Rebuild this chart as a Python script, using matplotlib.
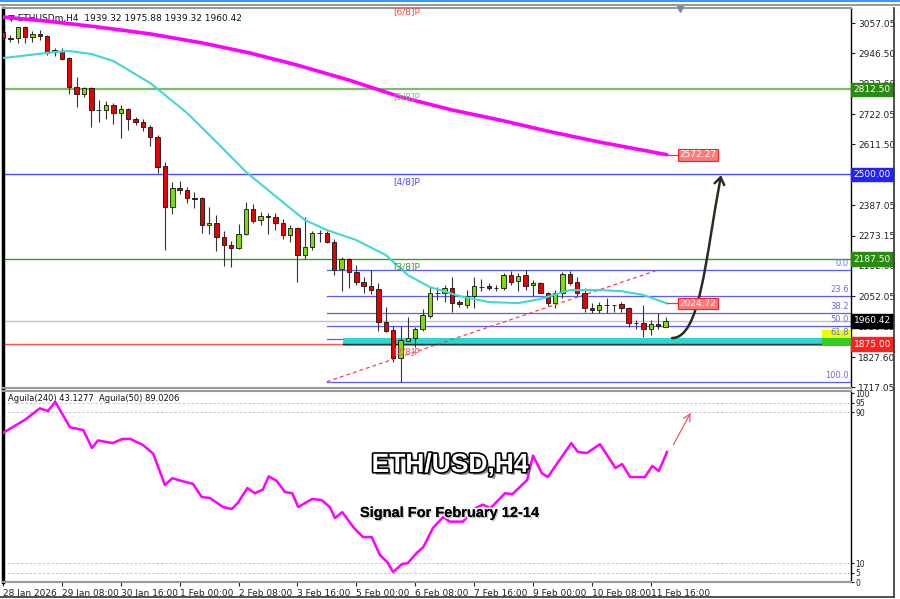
import matplotlib
matplotlib.use('Agg')
import matplotlib.pyplot as plt
import matplotlib.patheffects as pe
from matplotlib.patches import Rectangle, FancyArrowPatch
from matplotlib.path import Path
from matplotlib.transforms import blended_transform_factory
from matplotlib.lines import Line2D

plt.rcParams['font.family'] = ['DejaVu Sans']

# ---- H4 candles, bar 0 = 28 Jan 2026 00:00 ----
opens = [3025, 3001, 3001, 3042, 3006, 3016, 3009, 2950, 2954, 2928,
         2822, 2796, 2818, 2737, 2737, 2755, 2726, 2741, 2704, 2693,
         2674, 2637, 2531, 2380, 2448, 2442, 2413, 2413, 2314, 2321,
         2269, 2240, 2229, 2280, 2372, 2332, 2344, 2343, 2321, 2277,
         2302, 2203, 2233, 2284, 2284, 2251, 2151, 2188, 2140, 2104,
         2089, 2078, 1956, 1927, 1824, 1886, 1897, 1930, 1978, 2063,
         2063, 2081, 2030, 2019, 2052, 2086, 2089, 2081, 2081, 2129,
         2107, 2129, 2093, 2100, 2063, 2026, 2063, 2133, 2104, 2063,
         2008, 2001, 2019, 2019, 2023, 2008, 1953, 1953, 1931, 1949,
         1939.32]
highs = [3030, 3013, 3044, 3045, 3028, 3031, 3013, 2965, 2965, 2932,
         2858, 2822, 2822, 2774, 2770, 2763, 2755, 2744, 2711, 2704,
         2682, 2645, 2545, 2472, 2476, 2453, 2435, 2417, 2380, 2350,
         2291, 2255, 2317, 2398, 2390, 2361, 2358, 2358, 2336, 2314,
         2306, 2343, 2291, 2295, 2291, 2262, 2196, 2192, 2166, 2122,
         2148, 2100, 2012, 1942, 1942, 1975, 1938, 2004, 2085, 2085,
         2093, 2122, 2037, 2074, 2122, 2115, 2100, 2093, 2137, 2144,
         2137, 2148, 2111, 2104, 2067, 2074, 2140, 2144, 2122, 2082,
         2026, 2030, 2045, 2020, 2030, 2012, 1964, 2019, 1964, 1990,
         1975.88]
lows = [2996, 2987, 2983, 2983, 2987, 2995, 2939, 2936, 2921, 2796,
        2748, 2785, 2674, 2693, 2704, 2685, 2634, 2663, 2682, 2660,
        2604, 2505, 2221, 2354, 2428, 2395, 2376, 2284, 2280, 2218,
        2163, 2159, 2225, 2277, 2321, 2314, 2280, 2295, 2262, 2251,
        2104, 2188, 2221, 2251, 2247, 2129, 2071, 2082, 2093, 2063,
        2060, 1923, 1920, 1809, 1737, 1886, 1864, 1923, 1971, 2037,
        2030, 1993, 2012, 2008, 2008, 2070, 2074, 2070, 2074, 2093,
        2070, 2074, 2052, 2063, 2015, 2008, 2045, 2093, 2052, 1993,
        1990, 1990, 1990, 1993, 1993, 1938, 1931, 1901, 1909, 1931,
        1939.32]
closes = [3001, 3000, 3042, 3006, 3017, 3009, 2947, 2958, 2925, 2822,
          2796, 2818, 2737, 2735, 2755, 2726, 2741, 2704, 2693, 2674,
          2637, 2527, 2380, 2450, 2444, 2413, 2411, 2314, 2321, 2269,
          2240, 2229, 2280, 2372, 2328, 2347, 2343, 2321, 2277, 2302,
          2203, 2233, 2284, 2283, 2251, 2148, 2188, 2140, 2104, 2089,
          2074, 1956, 1923, 1824, 1890, 1897, 1930, 1982, 2063, 2062,
          2081, 2026, 2023, 2052, 2089, 2085, 2081, 2082, 2129, 2104,
          2126, 2089, 2100, 2063, 2026, 2063, 2133, 2100, 2063, 2008,
          2001, 2019, 2018, 2018, 2008, 1953, 1952, 1931, 1949, 1942,
          1960.42]

# moving averages
ma200_bar = [0, 6, 13, 20, 27, 33.5, 40, 47, 54, 61, 67.5, 74, 81, 90.2]
ma200_val = [3079, 3064, 3042, 3017, 2984, 2947, 2902, 2847, 2785, 2737,
             2700, 2659, 2619, 2572.27]
ma50_bar = [0, 7, 9, 12, 15, 20, 25, 29, 33, 37, 41, 44, 48, 52, 55, 58,
            62, 66, 70, 73, 77, 81, 84, 87, 90.2]
ma50_val = [2928, 2950, 2954, 2943, 2917, 2836, 2726, 2619, 2509, 2420,
            2332, 2295, 2258, 2203, 2129, 2085, 2052, 2030, 2026, 2041,
            2074, 2074, 2070, 2056, 2024.72]

# Murrey math levels
murrey_names = ['[6/8]P', '[5/8]P', '[4/8]P', '[3/8]P', '[2/8]P']
murrey_vals = [3125.0, 2812.5, 2500.0, 2187.5, 1875.0]
murrey_colors = ['#ff4040', '#7cbc6a', '#4a4aff', '#3c9a2c', '#ff5050']

# Fibonacci retracement
fib_high = 2148
fib_low = 1737
fib_levels = [0.0, 23.6, 38.2, 50.0, 61.8, 100.0]

# oscillator panel
osc_bar = [0, 3.0, 5.0, 6.1, 7.1, 9.1, 10.9, 12.1, 12.9, 14.9, 16.2, 17.3,
           19.0, 20.4, 22.0, 23.0, 24.3, 25.8, 27.0, 28.1, 29.9, 31.1, 31.9,
           33.2, 34.2, 35.3, 36.1, 37.2, 38.3, 39.3, 40.1, 42.0, 43.3, 44.4,
           45.1, 46.1, 47.6, 48.9, 50.1, 51.2, 52.2, 53.0, 54.2, 55.0, 56.2,
           57.1, 58.4, 59.8, 60.7, 62.5, 64.1, 65.2, 66.2, 68.2, 69.2, 71.2,
           72.0, 73.2, 74.0, 77.2, 78.1, 79.3, 81.1, 83.2, 84.1, 85.2, 87.2,
           88.2, 89.1, 90.2]
osc_val = [79, 86, 92, 90.6, 95.4, 82, 80.5, 71, 75, 73.6, 75.8, 75.8,
           72.6, 68, 51.4, 55, 53.5, 52, 45, 44.5, 39.7, 38.7, 41.9,
           49.8, 47, 49, 56, 53.5, 47.7, 47, 39.7, 44, 43.4, 39.7,
           33.9, 37, 29, 23.8, 23.8, 14.3, 10.6, 5.3, 9.5, 10, 15.4,
           18.5, 28.6, 34.4, 32, 32, 39, 41, 39, 47, 46.6, 54,
           67, 57.7, 55.6, 73.6, 68.9, 68.3, 73, 60.4, 62.5, 55.6, 55.6,
           61.5, 58.8, 68.9]

time_bars = [0, 8, 16, 24, 32, 40, 48, 56, 64, 72, 80, 88]
time_labels = ['28 Jan 2026', '29 Jan 08:00', '30 Jan 16:00', '1 Feb 00:00',
               '2 Feb 08:00', '3 Feb 16:00', '5 Feb 00:00', '6 Feb 08:00',
               '7 Feb 16:00', '9 Feb 00:00', '10 Feb 08:00', '11 Feb 16:00']
price_ticks = [3057.05, 2946.50, 2833.60, 2722.05, 2611.50, 2500.95, 2387.05,
               2273.15, 2162.60, 2052.05, 1938.15, 1827.60, 1717.05]

W, H = 900, 599
fig = plt.figure(figsize=(9, 5.99), dpi=100)
fig.patch.set_facecolor('white')

ax = fig.add_axes([3 / W, 1 - 388 / H, 848 / W, 380 / H])
ax2 = fig.add_axes([3 / W, 1 - 582 / H, 848 / W, 191 / H])
XMAX = 115.2
for a in (ax, ax2):
    a.set_xlim(0, XMAX)
    a.yaxis.tick_right()
    a.tick_params(axis='y', labelsize=6.5, length=3, pad=2, colors='#222222')
    a.spines['left'].set_linewidth(2.5)
    a.spines['right'].set_linewidth(1)
    a.spines['top'].set_color('#999999')
    a.spines['bottom'].set_color('#999999')
    a.spines['top'].set_linewidth(1.5)
    a.spines['bottom'].set_linewidth(1.5)
ax.set_ylim(1713.5, 3112.3)
ax.set_xticks([])
ax.set_yticks(price_ticks)
ax.set_yticklabels(['%.2f' % v for v in price_ticks])

# candles
for i in range(len(opens)):
    o, h, l, c = opens[i], highs[i], lows[i], closes[i]
    ax.vlines(i, l, h, color='#333333', lw=0.8, zorder=3)
    bottom = min(o, c)
    height = max(abs(c - o), 2.0)
    col = '#7ddc00' if c >= o else '#e80000'
    ax.bar(i, height, bottom=bottom, width=0.6, color=col,
           edgecolor='#111111', linewidth=0.6, zorder=4)

# MAs
ax.plot(ma200_bar, ma200_val, color='#ff00ff', lw=2.6, zorder=5, solid_capstyle='round')
ax.plot(ma50_bar, ma50_val, color='#40d8d0', lw=1.5, zorder=5)

# murrey lines
tr_ax = blended_transform_factory(ax.transAxes, ax.transData)
for name, v, col in zip(murrey_names, murrey_vals, murrey_colors):
    lw = 1.6 if name == '[5/8]P' else 1.0
    ax.axhline(v, color=col, lw=lw, zorder=1)
    ax.annotate(name, (53, v), xytext=(0, -2), textcoords='offset points',
                ha='left', va='top', fontsize=6.5, color=col, zorder=6,
                annotation_clip=False, clip_on=True)

# bid line
ax.axhline(closes[-1], color='#c0c4c8', lw=1.0, zorder=1)

# fib lines
fib_start = 44
for lv in fib_levels:
    p = fib_high - (fib_high - fib_low) * lv / 100
    ax.plot([fib_start, XMAX], [p, p], color='#5a5aff', lw=0.9, zorder=2)
    ax.annotate('%.1f' % lv, (XMAX - 0.3, p), xytext=(0, 1.5),
                textcoords='offset points', ha='right', va='bottom',
                fontsize=6, color='#6a6ae8', zorder=8)

# support band
ax.add_patch(Rectangle((46.2, 1868), XMAX - 46.2, 29.5, facecolor='#2fd6cf',
                       edgecolor='none', zorder=2.5))
ax.plot([46.2, XMAX], [1876, 1876], color='#0a3a3a', lw=1.0, zorder=2.6)
ax.add_patch(Rectangle((111.3, 1897.5), XMAX - 111.3, 29, facecolor='#eaff00',
                       edgecolor='none', zorder=7))
ax.add_patch(Rectangle((111.3, 1868), XMAX - 111.3, 29.5, facecolor='#33cc22',
                       edgecolor='none', zorder=7))

# trend line
ax.plot([44, 89], [1737, 2148], color='#ff4040', lw=0.9, ls=(0, (3, 2.5)), zorder=3)

# curved projection arrow
verts = [(90.9, 1897.5), (94.7, 1897.5), (95.4, 2184.6), (97.55, 2497)]
codes = [Path.MOVETO, Path.CURVE4, Path.CURVE4, Path.CURVE4]
arr = FancyArrowPatch(path=Path(verts, codes), arrowstyle='->,head_length=5,head_width=3.5',
                      color='#2b2b1e', lw=1.8, zorder=9)
ax.add_patch(arr)

# inline value tags
ax.plot([90.2, 91.8], [2572.27, 2572.27], color='#ff3030', lw=0.9, zorder=5)
ax.text(91.9, 2572.27, '2572.27', fontsize=6.5, color='white', va='center', ha='left',
        zorder=9, bbox=dict(boxstyle='square,pad=0.15', fc='#ff7a7a', ec='#ff2020', lw=0.8))
ax.plot([90.2, 91.8], [2024.72, 2024.72], color='#ff3030', lw=0.9, zorder=5)
ax.text(91.9, 2024.72, '2024.72', fontsize=6.5, color='white', va='center', ha='left',
        zorder=9, bbox=dict(boxstyle='square,pad=0.15', fc='#ff7a7a', ec='#ff2020', lw=0.8))

# right-axis colored labels
axis_tags = [(2812.50, '#2b8a12'), (2500.00, '#2222ff'), (2187.50, '#2b8a12'),
             (1960.42, '#000000'), (1875.00, '#ff2020')]
for v, col in axis_tags:
    ax.text(1.003, v, '%.2f' % v, transform=tr_ax, fontsize=6.5, color='white',
            va='center', ha='left', clip_on=False, zorder=10,
            bbox=dict(boxstyle='square,pad=0.25', fc=col, ec=col))

# header
ax.text(0.006, 0.985, '\u25bc ETHUSDm,H4  1939.32 1975.88 1939.32 1960.42',
        transform=ax.transAxes, fontsize=6.5, va='top', ha='left', color='#111111')
ax.plot([92], [3108], marker='v', color='#7a8a9a', ms=4, clip_on=False, zorder=10)

# ---- oscillator panel ----
ax2.set_ylim(0, 101.2)
for lv in [5, 10, 90, 95]:
    ax2.axhline(lv, color='#c8c8c8', lw=0.7, ls=(0, (2.5, 2)), zorder=1)
ax2.set_yticks([0, 5, 10, 90, 95, 100])
ax2.set_yticklabels(['0', '5', '10', '90', '95', '100'])
ax2.tick_params(axis='y', labelsize=5.5, length=2, pad=1)
ax2.plot(osc_bar, osc_val, color='#ff00ff', lw=1.8, zorder=3)
ax2.annotate('', xy=(93.6, 91), xytext=(90.9, 71.5),
             arrowprops=dict(arrowstyle='->,head_length=0.5,head_width=0.25',
                             color='#e85a6a', lw=0.9))
ax2.set_xticks(time_bars)
ax2.set_xticklabels(time_labels, ha='left')
ax2.tick_params(axis='x', labelsize=6.5, length=3, pad=2, colors='#222222')
ax2.text(0.006, 0.985, 'Aguila(240) 43.1277  Aguila(50) 89.0206',
         transform=ax2.transAxes, fontsize=6, va='top', ha='left', color='#111111')

# overlay titles
fig.text(450 / W, 1 - 465 / H, 'ETH/USD,H4', fontsize=19, fontweight='bold',
         family='Liberation Sans', color='white', ha='center', va='center', zorder=20,
         path_effects=[pe.withSimplePatchShadow(offset=(2, -2), shadow_rgbFace='#777777', alpha=0.8),
                       pe.Stroke(linewidth=2.4, foreground='black'), pe.Normal()])
fig.text(450 / W, 1 - 513 / H, 'Signal For February 12-14', fontsize=10.5, fontweight='bold',
         family='Liberation Sans', color='black', ha='center', va='center', zorder=20,
         path_effects=[pe.Stroke(linewidth=2.5, foreground='white'),
                       pe.withSimplePatchShadow(offset=(1, -1), shadow_rgbFace='#999999', alpha=0.5),
                       pe.Normal()])

# window frame
fig.add_artist(Line2D([0, 1], [1 - 1 / H, 1 - 1 / H], color='#3399ff', lw=1.5))
fig.add_artist(Line2D([0, 1], [1 - 5 / H, 1 - 5 / H], color='#888888', lw=1.2))
fig.add_artist(Line2D([894 / W, 894 / W], [1 - 597 / H, 1 - 8 / H], color='#333333', lw=1.2))
fig.add_artist(Line2D([0, 894 / W], [1 - 597 / H, 1 - 597 / H], color='#333333', lw=1.2))

fig.savefig('out.png', dpi=100)
